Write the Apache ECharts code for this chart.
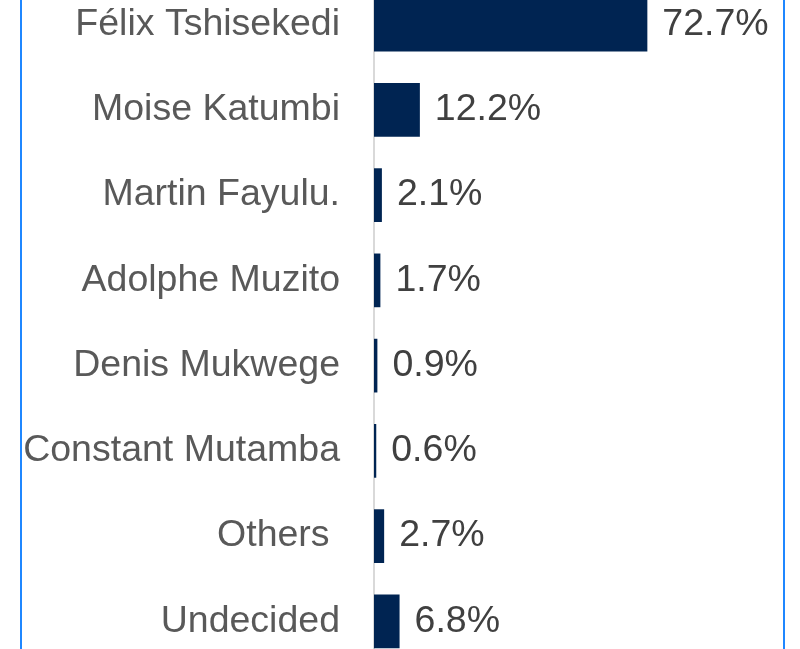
<!DOCTYPE html>
<html>
<head>
<meta charset="utf-8">
<script src="https://cdn.jsdelivr.net/npm/echarts@6/dist/echarts.min.js"></script>
<style>
  html, body { margin: 0; padding: 0; background: #fff; }
  #frame { position: relative; width: 800px; height: 649px; overflow: hidden; }
  #chart { position: absolute; left: 0; top: -18px; width: 800px; height: 682px; }
</style>
</head>
<body>
<div id="frame"><div id="chart"></div></div>
<script>
var candidates = ['Félix Tshisekedi', 'Moise Katumbi', 'Martin Fayulu.', 'Adolphe Muzito',
	'Denis Mukwege', 'Constant Mutamba', 'Others ', 'Undecided'];
var shares = [72.7, 12.2, 2.1, 1.7, 0.9, 0.6, 2.7, 6.8];

var barColor = '#002452';
var frameColor = '#1f87ff';

var myChart = echarts.init(document.getElementById('chart'));

var option = {
	animation: false,
	grid: {
		left: 374,
		right: 50,
		top: 0,
		bottom: 0
	},
	xAxis: {
		type: 'value',
		min: 0,
		max: 100,
		show: false
	},
	yAxis: {
		type: 'category',
		inverse: true,
		data: candidates,
		axisLine: { show: true, lineStyle: { color: '#d9d9d9', width: 2 } },
		axisTick: { show: false },
		axisLabel: {
			margin: 34,
			fontFamily: 'Liberation Sans, Arial, sans-serif',
			fontSize: 37.5,
			color: '#595959'
		}
	},
	series: [{
		type: 'bar',
		data: shares,
		barCategoryGap: '37%',
		itemStyle: { color: barColor },
		label: {
			show: true,
			position: 'right',
			distance: 15,
			fontFamily: 'Liberation Sans, Arial, sans-serif',
			fontSize: 37.5,
			color: '#404040',
			formatter: function (p) {
				return p.value.toFixed(1) + '%';
			}
		}
	}],
	// frame edges of the cropped slide box
	graphic: [
		{ type: 'rect', shape: { x: 20, y: 0, width: 2, height: 682 }, style: { fill: frameColor }, silent: true },
		{ type: 'rect', shape: { x: 783, y: 0, width: 2, height: 682 }, style: { fill: frameColor }, silent: true }
	]
};

myChart.setOption(option);
</script>
</body>
</html>
